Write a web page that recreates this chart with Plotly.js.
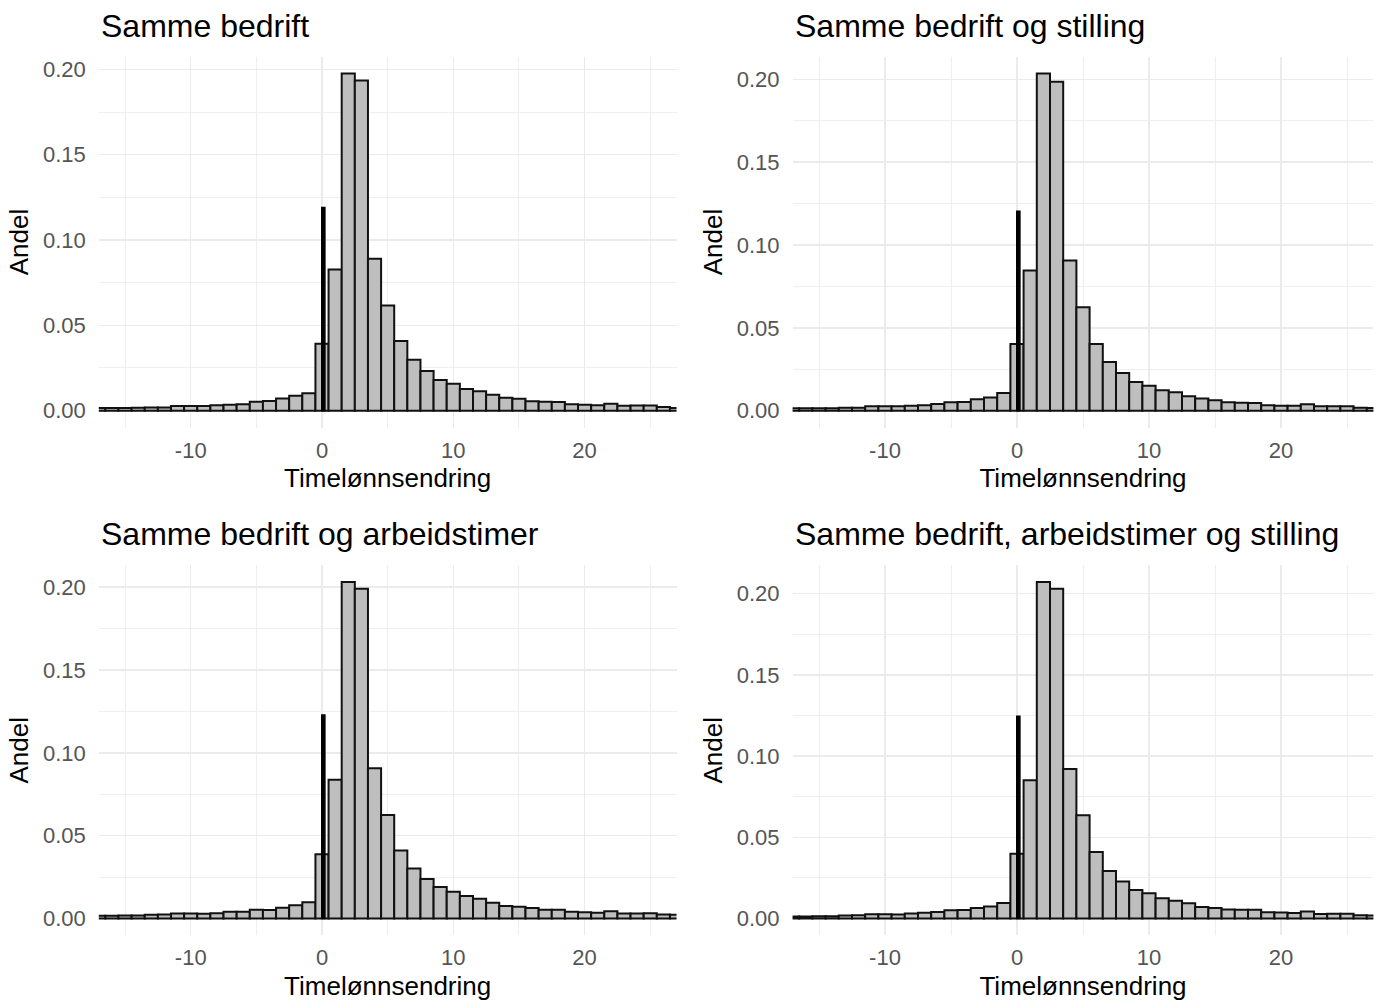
<!DOCTYPE html>
<html>
<head>
<meta charset="utf-8">
<script src="https://cdn.plot.ly/plotly-3.0.1.min.js"></script>
<style>html,body{margin:0;padding:0;background:#fff;}#chart{width:1382px;height:1002px;}</style>
</head>
<body>
<div id="chart"></div>
<script>
// Bin centres (Timelønnsendring, width 1)
const bins = [-17,-16,-15,-14,-13,-12,-11,-10,-9,-8,-7,-6,-5,-4,-3,-2,-1,0,1,2,3,4,5,6,7,8,9,10,11,12,13,14,15,16,17,18,19,20,21,22,23,24,25,26,27];

// Panel titles
const panelTitles = ["Samme bedrift", "Samme bedrift og stilling", "Samme bedrift og arbeidstimer", "Samme bedrift, arbeidstimer og stilling"];

// Shares per bin (Andel)
const sammeBedrift = [0.0016,0.0016,0.0016,0.0017,0.0018,0.0019,0.0027,0.0027,0.0027,0.0032,0.0034,0.0038,0.0052,0.0056,0.0071,0.0087,0.0102,0.0392,0.0827,0.1976,0.1935,0.0890,0.0616,0.0408,0.0298,0.0233,0.0180,0.0157,0.0127,0.0114,0.0093,0.0075,0.0070,0.0055,0.0052,0.0050,0.0038,0.0034,0.0032,0.0041,0.0029,0.0030,0.0030,0.0021,0.0016];
const sammeBedriftStilling = [0.0014,0.0014,0.0014,0.0014,0.0018,0.0018,0.0026,0.0026,0.0026,0.0030,0.0032,0.0040,0.0050,0.0052,0.0069,0.0080,0.0106,0.0403,0.0846,0.2036,0.1986,0.0906,0.0624,0.0403,0.0294,0.0227,0.0173,0.0151,0.0123,0.0111,0.0087,0.0073,0.0062,0.0050,0.0048,0.0046,0.0032,0.0030,0.0030,0.0038,0.0026,0.0026,0.0026,0.0018,0.0016];
const sammeBedriftTimer = [0.0016,0.0016,0.0018,0.0018,0.0022,0.0024,0.0030,0.0030,0.0028,0.0032,0.0040,0.0040,0.0053,0.0051,0.0065,0.0080,0.0098,0.0388,0.0837,0.2031,0.1991,0.0907,0.0625,0.0410,0.0302,0.0238,0.0190,0.0162,0.0135,0.0119,0.0095,0.0075,0.0071,0.0063,0.0053,0.0053,0.0040,0.0038,0.0034,0.0044,0.0030,0.0030,0.0032,0.0024,0.0022];
const sammeBedriftTimerStilling = [0.0012,0.0012,0.0014,0.0014,0.0018,0.0020,0.0026,0.0026,0.0024,0.0030,0.0035,0.0040,0.0050,0.0052,0.0064,0.0074,0.0095,0.0398,0.0851,0.2072,0.2031,0.0921,0.0636,0.0410,0.0292,0.0228,0.0176,0.0156,0.0125,0.0109,0.0094,0.0070,0.0064,0.0055,0.0053,0.0053,0.0039,0.0037,0.0033,0.0043,0.0027,0.0029,0.0029,0.0020,0.0018];

// Share with exactly zero change (thin black spike)
const spikeX = [0.1];
const spikeValues = [0.119, 0.1204, 0.1228, 0.1245];

// Axis ticks
const xTickVals = [-10, 0, 10, 20];
const xTickText = ["-10", "0", "10", "20"];
const xMinorVals = [-15, -5, 5, 15, 25];
const xRange = [-17, 27];
const yTickVals = [0, 0.05, 0.10, 0.15, 0.20];
const yTickText = ["0.00", "0.05", "0.10", "0.15", "0.20"];
const yMinorVals = [0.025, 0.075, 0.125, 0.175];

const series = [sammeBedrift, sammeBedriftStilling, sammeBedriftTimer, sammeBedriftTimerStilling];

const FONT = "Liberation Sans, Arial, Helvetica, sans-serif";
const W = 1382, H = 1002;
// panel plot areas in px
const colX = [[98.8, 676.5], [792.6, 1373.4]];
const rowY = [[56.6, 427.5], [565.2, 935.3]];

const traces = [];
const layout = {
  width: W, height: H,
  margin: {l: 0, r: 0, t: 0, b: 0},
  paper_bgcolor: "#ffffff",
  plot_bgcolor: "#ffffff",
  showlegend: false,
  barmode: "overlay",
  font: {family: FONT, color: "#000"},
  annotations: []
};

for (let i = 0; i < 4; i++) {
  const col = i % 2, row = Math.floor(i / 2);
  const sfx = i === 0 ? "" : String(i + 1);
  const xa = "x" + sfx, ya = "y" + sfx;
  traces.push({
    type: "bar", x: bins, y: series[i], xaxis: xa, yaxis: ya,
    width: 1,
    marker: {color: "#BEBEBE", line: {color: "#111111", width: 2}},
    hoverinfo: "x+y"
  });
  traces.push({
    type: "bar", x: spikeX, y: [spikeValues[i]], xaxis: xa, yaxis: ya,
    width: 0.24,
    marker: {color: "#000000", line: {color: "#000000", width: 1.5}},
    hoverinfo: "x+y"
  });
  const ymax = Math.max(Math.max(...series[i]), spikeValues[i]);
  const xd = [colX[col][0] / W, colX[col][1] / W];
  const yd = [1 - rowY[row][1] / H, 1 - rowY[row][0] / H];
  layout["xaxis" + sfx] = {
    domain: xd, anchor: ya, range: xRange,
    tickmode: "array", tickvals: xTickVals, ticktext: xTickText,
    ticks: "", ticklabelstandoff: 7,
    tickfont: {size: 22, color: "#555555", family: FONT},
    showgrid: true, gridcolor: "#EBEBEB", gridwidth: 1.5,
    minor: {tickmode: "array", tickvals: xMinorVals, showgrid: true, gridcolor: "#EFEFEF", gridwidth: 1},
    zeroline: false, showline: false,
    title: {text: "Timelønnsendring", font: {size: 26, color: "#000", family: FONT}, standoff: 7}
  };
  layout["yaxis" + sfx] = {
    domain: yd, anchor: xa, range: [-0.05 * ymax, 1.05 * ymax],
    tickmode: "array", tickvals: yTickVals, ticktext: yTickText,
    ticks: "", ticklabelstandoff: 12,
    tickfont: {size: 22, color: "#555555", family: FONT},
    showgrid: true, gridcolor: "#EBEBEB", gridwidth: 1.5,
    minor: {tickmode: "array", tickvals: yMinorVals, showgrid: true, gridcolor: "#EFEFEF", gridwidth: 1},
    zeroline: false, showline: false,
    title: {text: "Andel", font: {size: 26, color: "#000", family: FONT}, standoff: 6}
  };
  layout.annotations.push({
    text: panelTitles[i], xref: "paper", yref: "paper",
    x: colX[col][0] / W, xanchor: "left",
    y: 1 - (rowY[row][0] - 31) / H, yanchor: "middle",
    showarrow: false, font: {size: 32, color: "#000", family: FONT}
  });
}

Plotly.newPlot("chart", traces, layout, {displayModeBar: false, staticPlot: true});
</script>
</body>
</html>
